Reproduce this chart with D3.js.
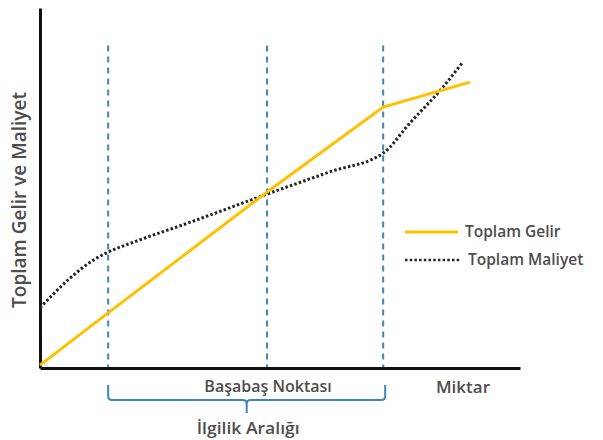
<!DOCTYPE html>
<html>
<head>
<meta charset="utf-8">
<script src="https://cdn.jsdelivr.net/npm/d3@7"></script>
<style>
  body { margin: 0; background: #fff; }
  text { font-family: "Open Sans", sans-serif; fill: #4d4d4d; font-weight: 600; }
</style>
</head>
<body>
<div id="chart"></div>
<script>
//width and height
var chart_width = 603;
var chart_height = 440;

// data (quantity 0-100, money 0-100)
var revenue_q = [0, 14.2, 47.3, 71.5, 89.6];
var revenue_v = [0.8, 15.3, 48.9, 72.5, 79.4];

var cost_q = [0, 5.8, 10.8, 14.2, 19.8, 31.3, 47.3, 60.4, 71.5, 77.1, 83.8, 88.1];
var cost_v = [16.7, 24.4, 29.7, 32.2, 35.1, 40.5, 48.3, 54.5, 59.7, 68.1, 77.8, 85.0];

var marker_q = [14.2, 47.3, 71.5];   // dashed guides
var range_q = [14.2, 71.5];          // bracket
var legend_labels = ['Toplam Gelir', 'Toplam Maliyet'];

var x = d3.scaleLinear().domain([0, 100]).range([40, 520]);
var y = d3.scaleLinear().domain([0, 100]).range([368, 8]);

var svg = d3.select('#chart')
            .append('svg')
            .attr('width', chart_width)
            .attr('height', chart_height);

// dashed guide lines
svg.selectAll('.guide')
    .data(marker_q)
    .enter()
    .append('line')
    .attr('class', 'guide')
    .attr('x1', (d) => x(d))
    .attr('x2', (d) => x(d))
    .attr('y1', y(89.6))
    .attr('y2', y(0))
    .attr('stroke', '#3f86b3')
    .attr('stroke-width', 2)
    .attr('stroke-dasharray', '6 5');

// axes, no ticks
svg.append('g')
    .attr('transform', 'translate(0,' + y(0) + ')')
    .call(d3.axisBottom(x).ticks(0).tickSizeOuter(0))
    .select('.domain')
    .attr('stroke', '#111')
    .attr('stroke-width', 3);

svg.append('g')
    .attr('transform', 'translate(' + x(0) + ',0)')
    .call(d3.axisLeft(y).ticks(0).tickSizeOuter(0))
    .select('.domain')
    .attr('stroke', '#111')
    .attr('stroke-width', 3);

var revenue = revenue_q.map((q, i) => [q, revenue_v[i]]);
var cost = cost_q.map((q, i) => [q, cost_v[i]]);

svg.append('path')
    .datum(cost)
    .attr('d', d3.line().x((d) => x(d[0])).y((d) => y(d[1])).curve(d3.curveMonotoneX))
    .attr('fill', 'none')
    .attr('stroke', '#222')
    .attr('stroke-width', 3)
    .attr('stroke-dasharray', '2.5 2.2');

svg.append('path')
    .datum(revenue)
    .attr('d', d3.line().x((d) => x(d[0])).y((d) => y(d[1])))
    .attr('fill', 'none')
    .attr('stroke', '#ffc000')
    .attr('stroke-width', 3);

// bracket under the axis
var bx0 = x(range_q[0]), bx1 = x(range_q[1]) + 2, bm = (bx0 + bx1) / 2;
var by = 400, r = 4;
svg.append('path')
    .attr('d', 'M' + bx0 + ',385 V' + (by - r) + ' Q' + bx0 + ',' + by + ' ' + (bx0 + r) + ',' + by +
               ' H' + (bm - r) + ' Q' + bm + ',' + by + ' ' + bm + ',' + (by + r) + ' V413' +
               ' M' + bm + ',' + (by + r) + ' Q' + bm + ',' + by + ' ' + (bm + r) + ',' + by +
               ' H' + (bx1 - r) + ' Q' + bx1 + ',' + by + ' ' + bx1 + ',' + (by - r) + ' V385')
    .attr('fill', 'none')
    .attr('stroke', '#3f86b3')
    .attr('stroke-width', 2);

// labels
svg.append('text')
    .attr('x', x(marker_q[1]) + 1)
    .attr('y', 392)
    .attr('text-anchor', 'middle')
    .style('font-size', '16px')
    .text('Başabaş Noktası');

svg.append('text')
    .attr('x', bm - 50)
    .attr('y', 434)
    .attr('textLength', 103)
    .attr('lengthAdjust', 'spacingAndGlyphs')
    .style('font-size', '16px')
    .text('İlgilik Aralığı');

svg.append('text')
    .attr('x', 463)
    .attr('y', 393)
    .attr('text-anchor', 'middle')
    .style('font-size', '17px')
    .text('Miktar');

svg.append('text')
    .attr('transform', 'translate(26,200) rotate(-90)')
    .attr('text-anchor', 'middle')
    .style('font-size', '19px')
    .text('Toplam Gelir ve Maliyet');

// legend
var legend = svg.selectAll('.legend')
    .data(legend_labels)
    .enter()
    .append('g')
    .attr('class', 'legend')
    .attr('transform', (d, i) => 'translate(405,' + (232 + i * 28) + ')');

legend.append('line')
    .attr('x1', 0)
    .attr('x2', (d, i) => i ? 55 : 53)
    .attr('stroke', (d, i) => i ? '#222' : '#ffc000')
    .attr('stroke-width', (d, i) => i ? 2.5 : 3)
    .attr('stroke-dasharray', (d, i) => i ? '2.5 2.2' : null);

legend.append('text')
    .attr('x', (d, i) => i ? 63 : 60)
    .attr('y', 5)
    .style('font-size', '15.5px')
    .text((d) => d);
</script>
</body>
</html>
